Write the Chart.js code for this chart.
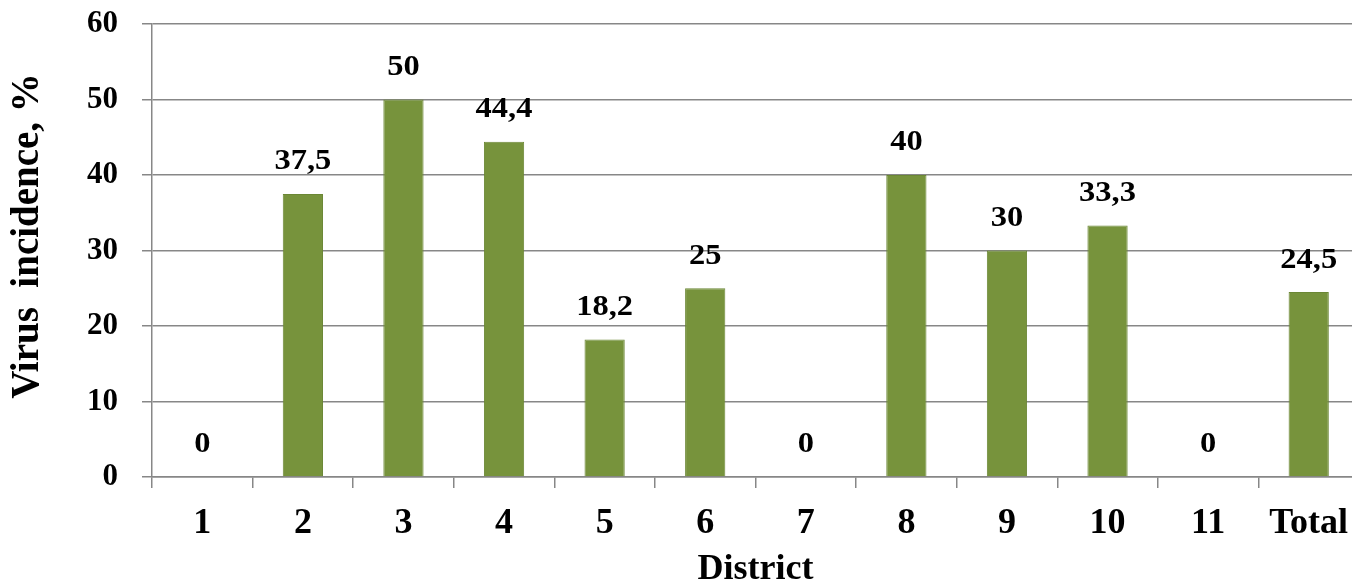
<!DOCTYPE html>
<html>
<head>
<meta charset="utf-8">
<script src="https://cdn.jsdelivr.net/npm/chart.js@4/dist/chart.umd.min.js"></script>
<style>
  html, body { margin: 0; padding: 0; background: #fff; overflow: hidden; }
  #wrap { width: 1359px; height: 584px; }
</style>
</head>
<body>
<div id="wrap"><canvas id="incidence_chart"></canvas></div>
<script>
// districts and virus incidence (%)
var districts = ["1", "2", "3", "4", "5", "6", "7", "8", "9", "10", "11", "Total"];
var incidence = [0, 37.5, 50, 44.4, 18.2, 25, 0, 40, 30, 33.3, 0, 24.5];
var yTicks = [0, 10, 20, 30, 40, 50, 60];
var yTitle = "Virus  incidence, %";

var serif = "'Liberation Serif', 'Times New Roman', serif";
var gridColor = "#878787";

// value above each bar (comma as decimal mark) + the y title
var valueLabels = {
  id: "valueLabels",
  afterDatasetsDraw(chart) {
    var ctx = chart.ctx;
    var meta = chart.getDatasetMeta(0);
    ctx.save();
    ctx.font = "bold 29px " + serif;
    ctx.fillStyle = "#000";
    ctx.textAlign = "center";
    ctx.textBaseline = "middle";
    meta.data.forEach((bar, i) => {
      var txt = String(incidence[i]).replace(".", ",");
      ctx.save();
      ctx.translate(bar.x, bar.y - 32);
      ctx.scale(1.12, 1);
      ctx.fillText(txt, 0, 0);
      ctx.restore();
    });

    // rotated axis title, sits a bit above the middle of the axis
    ctx.font = "bold 39px " + serif;
    ctx.translate(28, 236);
    ctx.rotate(-Math.PI / 2);
    ctx.fillText(yTitle, 0, 0);
    ctx.restore();
  }
};

new Chart(document.getElementById("incidence_chart"), {
  type: "bar",
  data: {
    labels: districts,
    datasets: [{
      data: incidence,
      backgroundColor: "#77933C",
      borderColor: "#6B8735",
      borderWidth: 1,
      categoryPercentage: 1,
      barPercentage: 0.4
    }]
  },
  options: {
    responsive: true,
    maintainAspectRatio: false,
    animation: false,
    layout: { padding: { top: 24, right: 0, bottom: 0, left: 0 } },
    plugins: {
      legend: { display: false },
      title: { display: false },
      tooltip: { enabled: false }
    },
    scales: {
      x: {
        offset: true,
        grid: {
          offset: true,
          drawOnChartArea: false,
          drawTicks: true,
          tickLength: 11,
          color: gridColor,
          lineWidth: 1.5
        },
        border: { color: gridColor, width: 1.5 },
        ticks: {
          color: "#000",
          padding: 14,
          font: { family: serif, size: 36, weight: "bold" }
        },
        title: {
          display: true,
          text: "District",
          color: "#000",
          padding: { top: 0, bottom: -4 },
          font: { family: serif, size: 36, weight: "bold", lineHeight: 1 }
        },
        afterFit: (s) => {
          s.height = 584 - 477;
          s.paddingLeft = 0;
          s.paddingRight = 0;
        }
      },
      y: {
        min: 0,
        max: 60,
        afterBuildTicks: (s) => { s.ticks = yTicks.map(v => ({ value: v })); },
        grid: {
          color: gridColor,
          lineWidth: 1.5,
          tickLength: 10
        },
        border: { color: gridColor, width: 1.5 },
        ticks: {
          color: "#000",
          padding: 24,
          font: { family: serif, size: 31, weight: "bold" }
        },
        afterFit: (s) => {
          s.width = 152;
          s.paddingTop = 0;
          s.paddingBottom = 0;
        }
      }
    }
  },
  plugins: [valueLabels]
});
</script>
</body>
</html>
